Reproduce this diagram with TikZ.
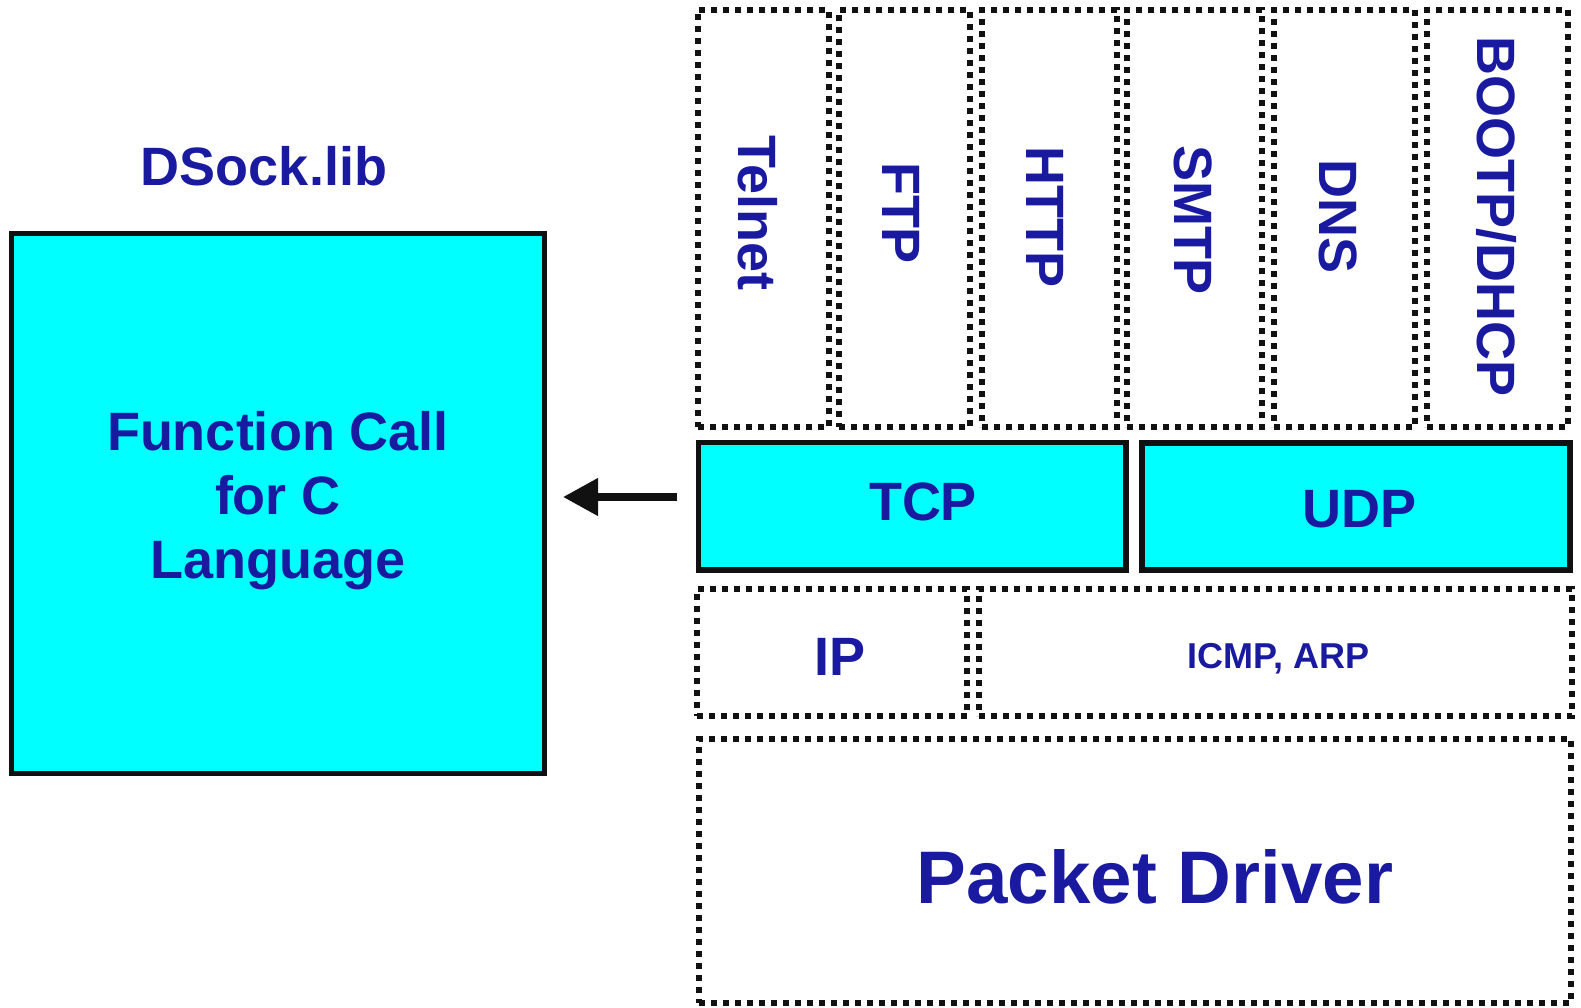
\documentclass[tikz,border=0pt]{standalone}
\usepackage{fontspec}
\setmainfont{Liberation Sans}
\usetikzlibrary{arrows.meta}
\definecolor{txtblue}{RGB}{26,26,160}
\definecolor{boxcyan}{RGB}{0,255,255}
\definecolor{linegray}{RGB}{17,17,17}
\begin{document}
\begin{tikzpicture}[x=1pt,y=-1pt,
  dotbox/.style={draw=linegray, line width=6pt, dash pattern=on 6pt off 6pt, inner sep=0pt, outer sep=0pt},
  solidbox/.style={draw=linegray, fill=boxcyan, line width=5.5pt, inner sep=0pt, outer sep=0pt},
  lbl/.style={text=txtblue, font=\bfseries\fontsize{54}{64}\selectfont, inner sep=0pt},
  vlbl/.style={lbl, rotate=-90},
  arrowline/.style={draw=linegray, line width=7.5pt, -{Triangle[length=35pt,width=36pt]}},
]
\useasboundingbox (0,0) rectangle (1581,1007);

% left library box
\node[lbl] (dsock) at (264,166) {DSock.lib};
\node[solidbox, minimum width=533pt, minimum height=540pt] (func) at (278,503.5) {};
\node[lbl, align=center] (functext) at (278,500.5) {Function Call\\for C\\Language};

% application layer
\node[dotbox, minimum width=131.3pt, minimum height=417pt] (telnet) at (763.35,218.5) {};
\node[dotbox, minimum width=131pt, minimum height=417pt] (ftp) at (904.5,218.5) {};
\node[dotbox, minimum width=135pt, minimum height=417pt] (http) at (1049.5,218.5) {};
\node[dotbox, minimum width=135pt, minimum height=417pt] (smtp) at (1194.5,218.5) {};
\node[dotbox, minimum width=141pt, minimum height=417pt] (dns) at (1344.5,218.5) {};
\node[dotbox, minimum width=141pt, minimum height=417pt] (bootp) at (1497.5,218.5) {};

\node[vlbl] (telnettext) at (757.5,213) {Telnet};
\node[vlbl] (ftptext) at (901,213) {FTP};
\node[vlbl] (httptext) at (1045.5,217) {HTTP};
\node[vlbl] (smtptext) at (1193,220) {SMTP};
\node[vlbl] (dnstext) at (1338,216.5) {DNS};
\node[vlbl] (bootptext) at (1497,216.5) {BOOTP/DHCP};

% transport layer
\node[solidbox, minimum width=427.5pt, minimum height=127.5pt] (tcp) at (912.25,506.25) {};
\node[solidbox, minimum width=428pt, minimum height=127pt] (udp) at (1356,506.5) {};
\node[lbl] (tcptext) at (923,502) {TCP};
\node[lbl] (udptext) at (1359.5,509) {UDP};

% network layer
\node[dotbox, minimum width=270pt, minimum height=127pt] (ip) at (832,652.5) {};
\node[dotbox, minimum width=593pt, minimum height=127pt] (icmp) at (1275.5,652.5) {};
\node[lbl] (iptext) at (840,657) {IP};
\node[lbl, font=\bfseries\fontsize{36}{42}\selectfont] (icmptext) at (1278.5,659) {ICMP, ARP};

% driver
\node[dotbox, minimum width=872pt, minimum height=264pt] (packet) at (1135,871) {};
\node[lbl, font=\bfseries\fontsize{74.5}{80}\selectfont] (packettext) at (1155,877) {Packet Driver};

% arrow
\coordinate (arrowtail) at (677,497);
\path (func.east) ++(18.5,0) coordinate (tipref);
\draw[arrowline] (arrowtail) -- (arrowtail -| tipref);
\end{tikzpicture}
\end{document}
